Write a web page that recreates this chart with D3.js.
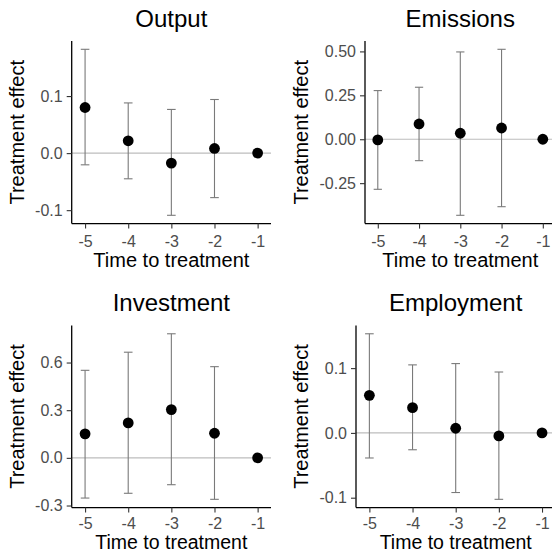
<!DOCTYPE html>
<html>
<head>
<meta charset="utf-8">
<script src="https://cdn.jsdelivr.net/npm/d3@7/dist/d3.min.js"></script>
<style>
  html, body { margin: 0; padding: 0; background: #fff; }
  svg { display: block; font-family: "Liberation Sans", Arial, sans-serif; }
</style>
</head>
<body>
<svg id="chart" width="552" height="552"></svg>
<script>
// ---- Data ----
const times = [-5, -4, -3, -2, -1];
const xTickLabels = ["-5", "-4", "-3", "-2", "-1"];

const outputEst = [0.080, 0.0216, -0.0175, 0.0082, 0];
const outputLo  = [-0.0205, -0.045, -0.109, -0.078, 0];
const outputHi  = [0.182, 0.088, 0.0766, 0.094, 0];
const outputTicks = [-0.1, 0, 0.1];
const outputTickLabels = ["-0.1", "0.0", "0.1"];

const emissionsEst = [-0.004, 0.087, 0.034, 0.064, 0];
const emissionsLo  = [-0.285, -0.122, -0.433, -0.384, 0];
const emissionsHi  = [0.277, 0.296, 0.497, 0.512, 0];
const emissionsTicks = [-0.25, 0, 0.25, 0.5];
const emissionsTickLabels = ["-0.25", "0.00", "0.25", "0.50"];

const investmentEst = [0.151, 0.220, 0.304, 0.155, 0];
const investmentLo  = [-0.253, -0.223, -0.169, -0.261, 0];
const investmentHi  = [0.551, 0.665, 0.781, 0.574, 0];
const investmentTicks = [-0.3, 0, 0.3, 0.6];
const investmentTickLabels = ["-0.3", "0.0", "0.3", "0.6"];

const employmentEst = [0.058, 0.039, 0.0072, -0.0046, 0];
const employmentLo  = [-0.0387, -0.026, -0.092, -0.1025, 0];
const employmentHi  = [0.153, 0.105, 0.107, 0.094, 0];
const employmentTicks = [-0.1, 0, 0.1];
const employmentTickLabels = ["-0.1", "0.0", "0.1"];

const panelTitles = ["Output", "Emissions", "Investment", "Employment"];
const xTitle = "Time to treatment";
const yTitle = "Treatment effect";

// ---- Layout ----
const panels = [
  { title: panelTitles[0], est: outputEst, lo: outputLo, hi: outputHi, ticks: outputTicks, tickLabels: outputTickLabels,
    left: 71.7, right: 271, top: 41, bottom: 223.6, yTitleX: 24, titleY: 26.5, xTitleY: 267.2, xTickY: 23.2, xTitleSize: 20 },
  { title: panelTitles[1], est: emissionsEst, lo: emissionsLo, hi: emissionsHi, ticks: emissionsTicks, tickLabels: emissionsTickLabels,
    left: 365, right: 555.6, top: 41, bottom: 223.6, yTitleX: 307.5, titleY: 26.5, xTitleY: 267.2, xTickY: 23.2, xTitleSize: 20 },
  { title: panelTitles[2], est: investmentEst, lo: investmentLo, hi: investmentHi, ticks: investmentTicks, tickLabels: investmentTickLabels,
    left: 71.7, right: 271, top: 325.5, bottom: 507.6, yTitleX: 24, titleY: 311, xTitleY: 548.6, xTickY: 21.5, xTitleSize: 19.5 },
  { title: panelTitles[3], est: employmentEst, lo: employmentLo, hi: employmentHi, ticks: employmentTicks, tickLabels: employmentTickLabels,
    left: 356, right: 555.4, top: 325.5, bottom: 507.6, yTitleX: 307.5, titleY: 311, xTitleY: 548.6, xTickY: 21.5, xTitleSize: 19.5 }
];

const svg = d3.select("#chart");
const capHalf = 0.1;

panels.forEach(p => {
  const g = svg.append("g");
  const xmin = d3.min(times) - capHalf, xmax = d3.max(times) + capHalf;
  const xpad = (xmax - xmin) * 0.05;
  const x = d3.scaleLinear().domain([xmin - xpad, xmax + xpad]).range([p.left, p.right]);
  const ymin = d3.min(p.lo), ymax = d3.max(p.hi);
  const ypad = (ymax - ymin) * 0.05;
  const y = d3.scaleLinear().domain([ymin - ypad, ymax + ypad]).range([p.bottom, p.top]);

  const rows = times.map((t, i) => ({ t, est: p.est[i], lo: p.lo[i], hi: p.hi[i] }));

  // zero reference line
  g.append("line")
    .attr("x1", p.left).attr("x2", p.right)
    .attr("y1", y(0)).attr("y2", y(0))
    .attr("stroke", "#bdbdbd").attr("stroke-width", 1.1);

  // error bars
  const eb = g.append("g").attr("stroke", "#7a7a7a").attr("stroke-width", 1.1).attr("fill", "none");
  rows.forEach(r => {
    eb.append("line").attr("x1", x(r.t)).attr("x2", x(r.t)).attr("y1", y(r.lo)).attr("y2", y(r.hi));
    eb.append("line").attr("x1", x(r.t - capHalf)).attr("x2", x(r.t + capHalf)).attr("y1", y(r.lo)).attr("y2", y(r.lo));
    eb.append("line").attr("x1", x(r.t - capHalf)).attr("x2", x(r.t + capHalf)).attr("y1", y(r.hi)).attr("y2", y(r.hi));
  });

  // points
  g.selectAll("circle.pt").data(rows).enter().append("circle")
    .attr("cx", d => x(d.t)).attr("cy", d => y(d.est)).attr("r", 5.4).attr("fill", "#000");

  // axes
  const xAxis = d3.axisBottom(x).tickValues(times).tickSize(5).tickPadding(4)
    .tickFormat((d, i) => xTickLabels[i]);
  const gx = g.append("g").attr("transform", `translate(0,${p.bottom})`).call(xAxis);
  const yAxis = d3.axisLeft(y).tickValues(p.ticks).tickSize(5).tickPadding(4)
    .tickFormat((d, i) => p.tickLabels[i]);
  const gy = g.append("g").attr("transform", `translate(${p.left},0)`).call(yAxis);

  [gx, gy].forEach(ax => {
    ax.attr("font-size", null).attr("font-family", null);
    ax.select(".domain").attr("stroke", "#000").attr("stroke-width", 1.3);
    ax.selectAll(".tick line").attr("stroke", "#333").attr("stroke-width", 1.1);
    ax.selectAll(".tick text").attr("fill", "#4d4d4d").style("font-size", "16px")
      .style("font-family", "'Liberation Sans', Arial, sans-serif");
  });
  gx.select(".domain").attr("d", `M${p.left},0H${p.right}`);
  gy.select(".domain").attr("d", `M0,${p.top}V${p.bottom}`);
  gx.selectAll(".tick text").attr("dy", null).attr("y", p.xTickY);

  // titles
  g.append("text").attr("x", (p.left + p.right) / 2).attr("y", p.titleY)
    .attr("text-anchor", "middle").style("font-size", "24px").attr("fill", "#000").text(p.title);
  g.append("text").attr("x", (p.left + p.right) / 2).attr("y", p.xTitleY)
    .attr("text-anchor", "middle").style("font-size", p.xTitleSize + "px").attr("fill", "#000").text(xTitle);
  g.append("text")
    .attr("transform", `translate(${p.yTitleX},${(p.top + p.bottom) / 2}) rotate(-90)`)
    .attr("text-anchor", "middle").style("font-size", "20px").attr("fill", "#000").text(yTitle);
});
</script>
</body>
</html>
